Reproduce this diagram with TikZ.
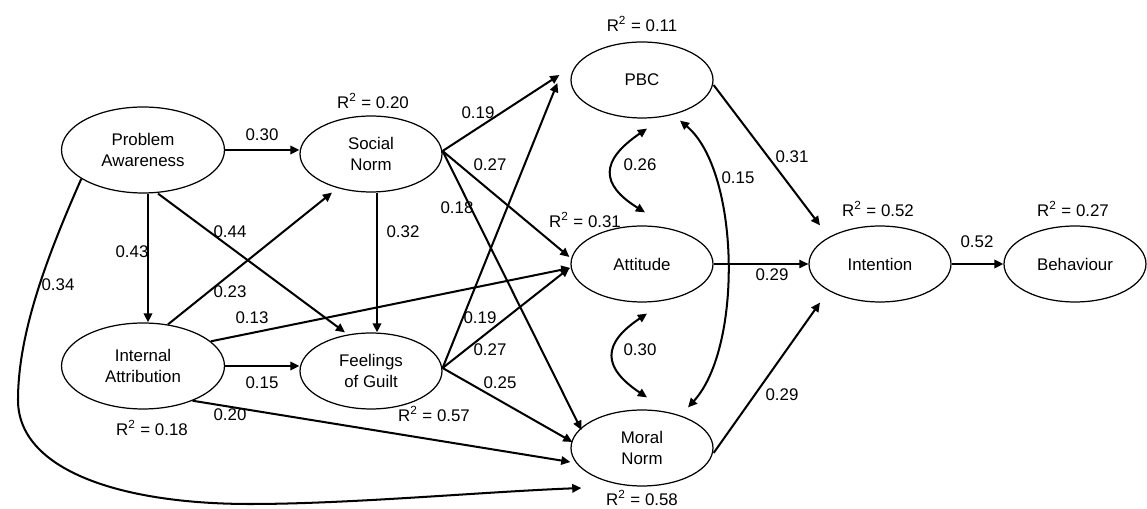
\documentclass[tikz,border=0pt]{standalone}
\usepackage{fontspec}
\setmainfont{Liberation Sans}
\usetikzlibrary{shapes.geometric,arrows.meta,calc}

\begin{document}
\begin{tikzpicture}[x=0.02cm,y=-0.02cm,
  font=\fontsize{9.6}{12.4}\selectfont,
  big/.style={ellipse,draw,line width=0.7pt,minimum width=3.26cm,minimum height=1.72cm,inner sep=0pt,align=center},
  mid/.style={ellipse,draw,line width=0.7pt,minimum width=2.84cm,minimum height=1.52cm,inner sep=0pt,align=center},
  link/.style={line width=1.15pt,-{Triangle[length=5.2pt,width=4.8pt]}},
  both/.style={line width=1.15pt,{Triangle[length=5.2pt,width=4.8pt]}-{Triangle[length=5.2pt,width=4.8pt]}},
  coef/.style={inner sep=0pt},
]
\useasboundingbox (0,0) rectangle (1147,509);

% constructs
\node[big] (pa)  at (143,150)  {Problem\\Awareness};
\node[mid] (sn)  at (371,154)  {Social\\Norm};
\node[big] (ia)  at (143,366)  {Internal\\Attribution};
\node[mid] (fg)  at (371,371)  {Feelings\\of Guilt};
\node[mid] (pbc) at (642,80)   {PBC};
\node[mid] (att) at (642,264)  {Attitude};
\node[mid] (mn)  at (642,448)  {Moral\\Norm};
\node[mid] (int) at (880,264)  {Intention};
\node[mid] (beh) at (1075,264) {Behaviour};

% explained variance
\node[coef] (r11) at (642,24)  {R\textsuperscript{2} = 0.11};
\node[coef] (r20) at (373,101) {R\textsuperscript{2} = 0.20};
\node[coef] (r31) at (585,220) {R\textsuperscript{2} = 0.31};
\node[coef] (r52) at (878,209) {R\textsuperscript{2} = 0.52};
\node[coef] (r27) at (1073,209){R\textsuperscript{2} = 0.27};
\node[coef] (r18) at (152,428) {R\textsuperscript{2} = 0.18};
\node[coef] (r57) at (434,414) {R\textsuperscript{2} = 0.57};
\node[coef] (r58) at (642,498) {R\textsuperscript{2} = 0.58};

% start points shared by several paths
\coordinate (sno) at ($(sn.east)+(0,-3)$);
\coordinate (fgo) at ($(fg.east)+(0,-3)$);

% paths from problem awareness and internal attribution
\draw[link] (pa.east) -- (pa.east -| sn.west);
\draw[link] ($(pa.south)+(5,0)$) -- ($(ia.north)+(5,0)$);
\draw[link] ($(pa.south)+(15,0)$) -- ($(fg.north)+(-26,0)$);
\draw[link] ($(ia.north)+(25,2)$) -- ($(sn.south)+(-39,0)$);
\draw[link] ($(sn.south)+(6,0)$) -- ($(fg.north)+(6,0)$);
\draw[link] (ia.20) -- ($(att.west)+(0,4)$);
\draw[link] (ia.east) -- (ia.east -| fg.west);
\draw[link] (ia.-35) -- ($(mn.west)+(0,14)$);
\draw[link] (pa.205) .. controls (50,250) and (18,330) .. (18,400)
  .. controls (18,470) and (120,504) .. (250,504)
  .. controls (350,504) and (480,492) .. ($(mn.west)+(11,40)$);

% paths from social norm and feelings of guilt
\draw[link] (sno) -- ($(pbc.west)+(-11,-5)$);
\draw[link] (sno) -- ($(att.west)+(-1,-7)$);
\draw[link] (sno) -- ($(mn.west)+(11,-18)$);
\draw[link] (fgo) -- ($(pbc.west)+(-13,3)$);
\draw[link] (fgo) -- ($(att.west)+(-1,4)$);
\draw[link] (fgo) -- ($(mn.west)+(2,-6)$);

% correlations
\draw[both] ($(pbc.south)+(5,10)$) .. controls +(-47,32) and +(-45,-28) .. ($(att.north)+(3,-13)$);
\draw[both] ($(att.south)+(5,11)$) .. controls +(-45,30) and +(-45,-30) .. ($(mn.north)+(5,-12)$);
\draw[both] ($(pbc.south)+(38,2)$) .. controls +(60,50) and +(55,-60) .. ($(mn.north)+(46,-2)$);

% paths to intention and behaviour
\draw[link] ($(pbc.east)+(0,5)$) -- ($(int.north)+(-60,0)$);
\draw[link,line width=0.6pt] (att.east) -- (int.west);
\draw[link] ($(mn.east)+(0,5)$) -- ($(int.south)+(-60,0)$);
\draw[link,line width=1.6pt] (int.east) -- (beh.west);

% path coefficients
\node[coef] (c1)  at (262,135) {0.30};
\node[coef] (c2)  at (132,252) {0.43};
\node[coef] (c3)  at (230,232) {0.44};
\node[coef] (c4)  at (58,285)  {0.34};
\node[coef] (c5)  at (230,292) {0.23};
\node[coef] (c6)  at (252,318) {0.13};
\node[coef] (c7)  at (262,383) {0.15};
\node[coef] (c8)  at (230,415) {0.20};
\node[coef] (c9)  at (403,232) {0.32};
\node[coef] (c10) at (478,113) {0.19};
\node[coef] (c11) at (490,165) {0.27};
\node[coef] (c12) at (457,208) {0.18};
\node[coef] (c13) at (480,318) {0.19};
\node[coef] (c14) at (490,350) {0.27};
\node[coef] (c15) at (500,383) {0.25};
\node[coef] (c16) at (640,165) {0.26};
\node[coef] (c17) at (640,350) {0.30};
\node[coef] (c18) at (738,178) {0.15};
\node[coef] (c19) at (792,157) {0.31};
\node[coef] (c20) at (772,275) {0.29};
\node[coef] (c21) at (782,395) {0.29};
\node[coef] (c22) at (977,242) {0.52};
\end{tikzpicture}
\end{document}
